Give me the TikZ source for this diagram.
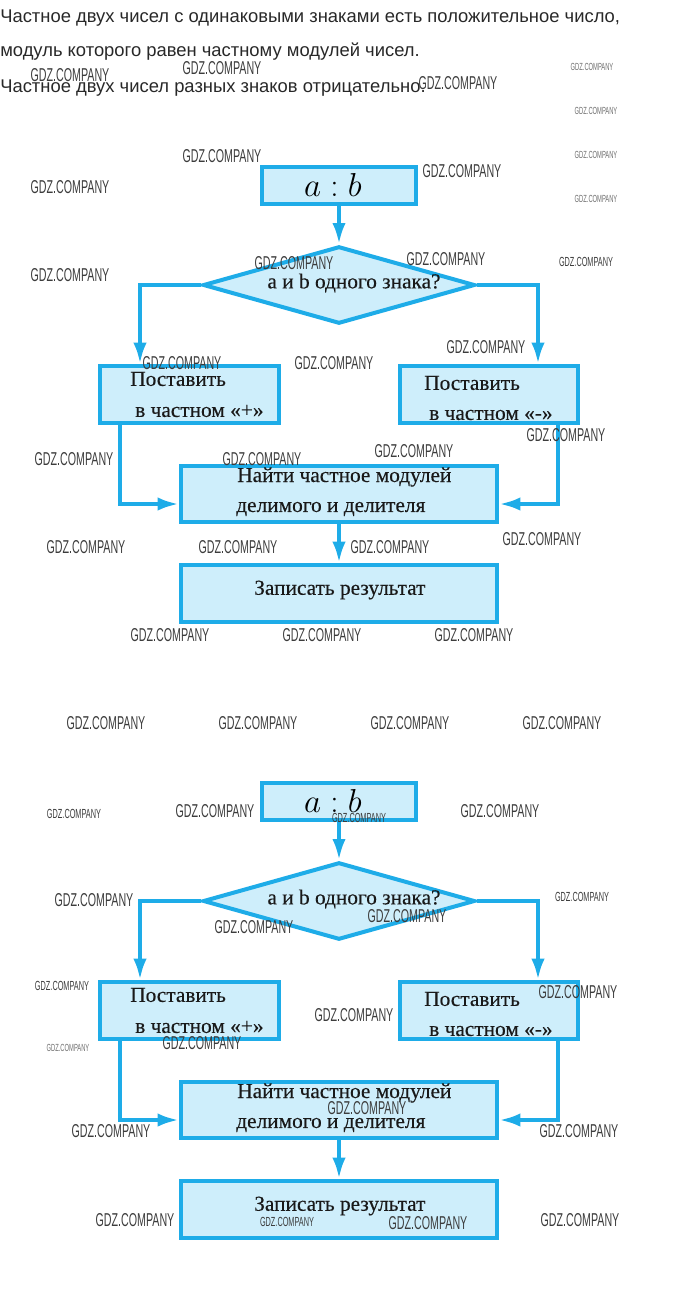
\documentclass[tikz,border=0pt]{standalone}
\usepackage{fontspec}
\setmainfont{Liberation Serif}
\setsansfont{Liberation Sans}
\newfontfamily\fcfont{Liberation Serif}[FakeBold=0.3]
\usepackage{graphicx}
\usetikzlibrary{shapes.geometric,arrows.meta}
\definecolor{fcline}{RGB}{30,172,232}
\definecolor{fcfill}{RGB}{206,238,251}
\definecolor{hdtext}{RGB}{40,40,40}
\definecolor{wmcol}{RGB}{60,60,60}
\definecolor{wmcolS}{RGB}{110,110,110}
\newcommand{\wmL}{\resizebox{59pt}{9.75pt}{\sffamily GDZ.COMPANY}}
\newcommand{\wmM}{\resizebox{40.5pt}{6.9pt}{\sffamily GDZ.COMPANY}}
\newcommand{\wmS}{\textcolor{wmcolS}{\resizebox{32pt}{5.4pt}{\sffamily GDZ.COMPANY}}}
\tikzset{
  fcbox/.style={draw=fcline, fill=fcfill, line width=3pt, rectangle, inner sep=0pt},
  fcdia/.style={draw=fcline, fill=fcfill, line width=3pt, diamond, inner sep=0pt},
  fcarr/.style={draw=fcline, line width=3pt, -{Latex[length=16pt,width=10pt]}},
  fctxt/.style={font=\fcfont\fontsize{16}{18}\selectfont, text=black!90, inner sep=0pt},
  hdr/.style={font=\sffamily\fontsize{13.8}{16}\selectfont, text=hdtext, anchor=west, inner sep=0pt},
  wm/.style={text=wmcol, inner sep=0pt},
}
\begin{document}
\begin{tikzpicture}[x=0.75pt,y=-0.75pt]
\useasboundingbox (0,0) rectangle (680,1297);
\node[hdr] (h1) at (0,18) {Частное двух чисел с одинаковыми знаками есть положительное число,};
\node[hdr] (h2) at (0,52) {модуль которого равен частному модулей чисел.};
\node[hdr] (h3) at (0,88) {Частное двух чисел разных знаков отрицательно.};
\foreach \p/\dy in {A/0,B/616}{
\begin{scope}[shift={(0,\dy)}]
  \node[fcbox, minimum width=115.5pt, minimum height=27.75pt] (top\p) at (339,185.5) {};
  \node[fcdia, minimum width=204pt, minimum height=58pt] (dia\p) at (339,285) {};
  \node[fcbox, minimum width=134.25pt, minimum height=42.75pt] (lbox\p) at (189.5,394.5) {};
  \node[fcbox, minimum width=133.5pt, minimum height=42.75pt] (rbox\p) at (489,394.5) {};
  \node[fcbox, minimum width=237pt, minimum height=42pt] (mid\p) at (339,494) {};
  \node[fcbox, minimum width=237pt, minimum height=42.75pt] (bot\p) at (339,593.5) {};
  \coordinate (lx\p) at (140,0);
  \coordinate (rx\p) at (538,0);
  \coordinate (lxx\p) at (120,0);
  \coordinate (rxx\p) at (558,0);
  \coordinate (ay\p) at (0,504);
  \draw[fcarr] (top\p.south) -- (dia\p.north);
  \draw[fcarr] (dia\p.west) -| (lx\p |- lbox\p.north);
  \draw[fcarr] (dia\p.east) -| (rx\p |- rbox\p.north);
  \draw[fcarr] (lxx\p |- lbox\p.south) |- (mid\p.west |- ay\p);
  \draw[fcarr] (rxx\p |- rbox\p.south) |- (mid\p.east |- ay\p);
  \draw[fcarr] (mid\p.south) -- (bot\p.north);
  \node[inner sep=0pt, text=black] (ab\p) at (333,185) {\fontsize{28}{28}\selectfont$a:b$};
  \node[fctxt] (q\p) at (354,283) {а и b одного знака?};
  \node[fctxt, anchor=west] (l1\p) at (130,379) {Поставить};
  \node[fctxt, anchor=west] (l2\p) at (135,411) {в частном «+»};
  \node[fctxt, anchor=west] (r1\p) at (424,383) {Поставить};
  \node[fctxt, anchor=west] (r2\p) at (429,415) {в частном «-»};
  \node[fctxt, anchor=west] (m1\p) at (237,477) {Найти частное модулей};
  \node[fctxt, anchor=west] (m2\p) at (236,509) {делимого и делителя};
  \node[fctxt, anchor=west] (b1\p) at (254,590) {Записать результат};
\end{scope}
}
\foreach \x/\y/\s [count=\i] in {70/75/L, 222/68/L, 458/83/L, 592/67/S, 596/111/S, 596/155/S, 596/199/S, 222/156/L, 462/171/L, 70/187/L, 70/275/L, 294/263/L, 446/259/L, 586/262/M, 182/363/L, 334/363/L, 486/347/L, 74/459/L, 262/459/L, 414/451/L, 566/435/L, 86/547/L, 238/547/L, 390/547/L, 542/539/L, 170/635/L, 322/635/L, 474/635/L, 106/723/L, 258/723/L, 410/723/L, 562/723/L, 74/814/M, 215/811/L, 359/818/M, 500/811/L, 94/900/L, 582/897/M, 407/916/L, 254/927/L, 62/986/M, 578/992/L, 354/1015/L, 202/1043/L, 68/1048/S, 367/1108/L, 111/1131/L, 579/1131/L, 135/1220/L, 287/1222/M, 428/1223/L, 580/1220/L}{
  \node[wm] (w\i) at (\x,\y) {\csname wm\s\endcsname};
}
\end{tikzpicture}
\end{document}
